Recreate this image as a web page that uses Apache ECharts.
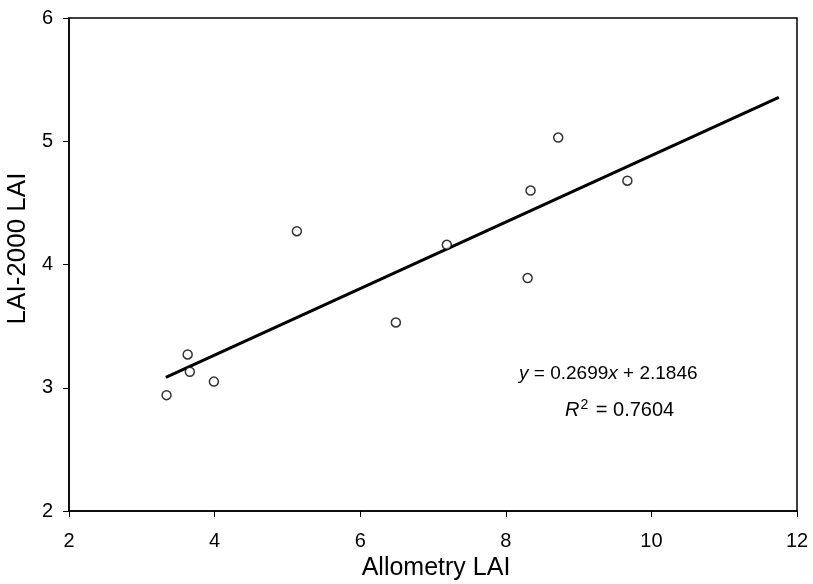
<!DOCTYPE html>
<html><head><meta charset="utf-8">
<script src="https://cdn.jsdelivr.net/npm/echarts@6/dist/echarts.min.js"></script>
<style>html,body{margin:0;padding:0;background:#fff}#c{width:813px;height:584px}</style>
</head><body><div id="c"></div>
<script>
const allometryLAI = [3.34, 3.63, 3.66, 3.99, 5.13, 6.49, 7.19, 8.30, 8.34, 8.72, 9.67];
const lai2000LAI   = [2.94, 3.27, 3.13, 3.05, 4.27, 3.53, 4.16, 3.89, 4.60, 5.03, 4.68];
const slope = 0.2699, intercept = 2.1846;
const fitX = [3.33, 11.75];
const xTicks = [2, 4, 6, 8, 10, 12];
const yTicks = [2, 3, 4, 5, 6];

const points = allometryLAI.map((x, i) => [x, lai2000LAI[i]]);
const fitLine = fitX.map(x => [x, slope * x + intercept]);
const font = 'Liberation Sans, Arial, sans-serif';

const chart = echarts.init(document.getElementById('c'));
chart.setOption({
  backgroundColor: '#fff',
  animation: false,
  grid: { left: 69, right: 16, top: 18, bottom: 73, containLabel: false, outerBoundsMode: 'none',
          show: true, borderColor: '#000', borderWidth: 1.5 },
  xAxis: {
    type: 'value', min: xTicks[0], max: xTicks[xTicks.length - 1], interval: 2,
    name: 'Allometry LAI', nameLocation: 'middle', nameGap: 45,
    nameTextStyle: { fontFamily: font, fontSize: 25, color: '#000', padding: [0, 0, 0, 6] },
    axisLine: { onZero: false, lineStyle: { color: '#000', width: 1.5 } },
    axisTick: { show: true, inside: false, length: 6, lineStyle: { color: '#000' } },
    axisLabel: { fontFamily: font, fontSize: 20, color: '#000', margin: 20 },
    splitLine: { show: false }
  },
  yAxis: {
    type: 'value', min: yTicks[0], max: yTicks[yTicks.length - 1], interval: 1,
    name: 'LAI-2000 LAI', nameLocation: 'middle', nameGap: 38,
    nameTextStyle: { fontFamily: font, fontSize: 26, color: '#000', padding: [0, 0, 0, 32] },
    axisLine: { onZero: false, lineStyle: { color: '#000', width: 1.5 } },
    axisTick: { show: true, inside: false, length: 6, lineStyle: { color: '#000' } },
    axisLabel: { fontFamily: font, fontSize: 20, color: '#000', margin: 16 },
    splitLine: { show: false }
  },
  series: [
    {
      type: 'line', data: fitLine, symbol: 'none', silent: true,
      lineStyle: { color: '#000', width: 3 }, z: 2
    },
    {
      type: 'scatter', data: points, symbol: 'circle', symbolSize: 9,
      itemStyle: { color: '#fff', borderColor: '#000', borderWidth: 1.5 }, z: 3
    }
  ],
  graphic: [
    {
      type: 'text', left: 519, top: 364,
      style: {
        text: '{i|y} = 0.2699{i|x} + 2.1846',
        font: '19px ' + font, fill: '#000',
        rich: { i: { fontStyle: 'italic', fontSize: 19, fontFamily: font } }
      }
    },
    {
      type: 'text', left: 565, top: 398,
      style: {
        text: '{i|R}{s|2}{n| = 0.7604}',
        font: '20px ' + font, fill: '#000',
        rich: {
          i: { fontStyle: 'italic', fontSize: 20, fontFamily: font, lineHeight: 22, verticalAlign: 'bottom' },
          n: { fontSize: 20, fontFamily: font, lineHeight: 22, verticalAlign: 'bottom' },
          s: { fontSize: 14, fontFamily: font, lineHeight: 14, verticalAlign: 'top', padding: [0, 2, 0, 1] }
        }
      }
    }
  ]
});
</script>
</body></html>
